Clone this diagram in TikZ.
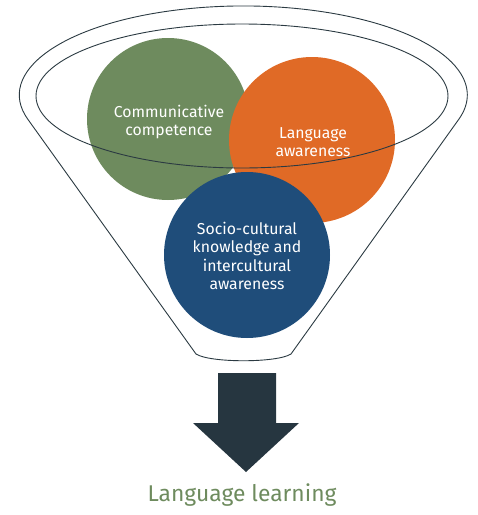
\documentclass[tikz,border=0pt]{standalone}
\usepackage{fontspec}
\setmainfont{Fira Sans}
\definecolor{cgreen}{HTML}{6E8B5E}
\definecolor{corange}{HTML}{E06A26}
\definecolor{cblue}{HTML}{1F4D7A}
\definecolor{carrow}{HTML}{263640}
\definecolor{cline}{HTML}{2B3A42}
\begin{document}
\begin{tikzpicture}[x=1pt,y=-1pt,
  bubble/.style={circle,minimum size=#1,inner sep=0pt},
  bubbletext/.style={text=white,align=center,font=\fontsize{15.8}{18.5}\selectfont},
  funnelline/.style={draw=cline,line width=0.9pt}]
\useasboundingbox (0,0) rectangle (478,515);
% circles
\node[bubble=162,fill=cgreen] (cc) at (168,119) {};
\node[bubble=166,fill=corange] (la) at (312,140) {};
\node[bubble=166,fill=cblue] (sc) at (247,255) {};
\node[bubbletext] (cct) at (169,122) {Communicative\\competence};
\node[bubbletext] (lat) at (313,142) {Language\\awareness};
\node[bubbletext] (sct) at (247,256) {Socio-cultural\\knowledge and\\intercultural\\awareness};
% inner ellipse
\draw[funnelline] (242,96) ellipse[x radius=206,y radius=72];
% outer funnel
\draw[funnelline] (28,119.5) arc[start angle=164,end angle=376,x radius=224,y radius=89]
  -- (291,354) .. controls (277,363) and (210,363) .. (196,354) -- cycle;
% arrow
\fill[carrow] (218,373) -- (276,373) -- (276,423) -- (299,423) -- (246,472) -- (193,423) -- (218,423) -- cycle;
\node[text=cgreen,font=\fontsize{22.8}{27}\selectfont] (ll) at (242,495) {Language learning};
\end{tikzpicture}
\end{document}
